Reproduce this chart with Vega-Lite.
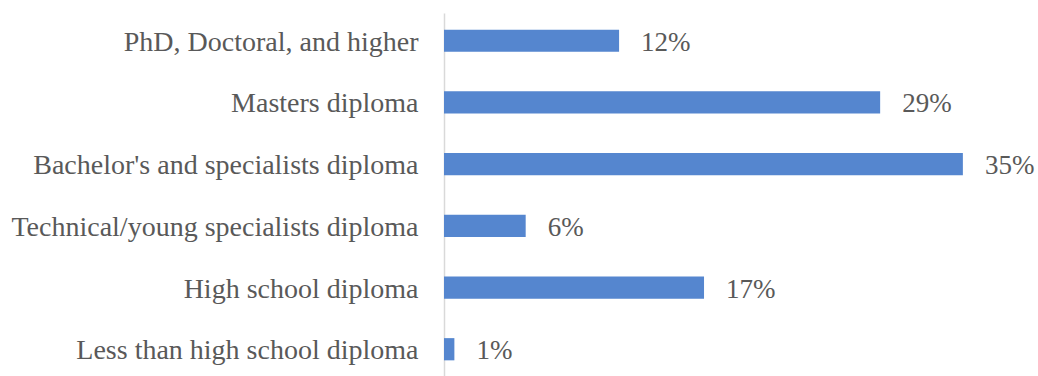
{
  "$schema": "https://vega.github.io/schema/vega-lite/v6.json",
  "autosize": "none",
  "width": 593,
  "height": 364,
  "padding": {"left": 444, "top": 13, "right": 0, "bottom": 0},
  "background": "white",
  "config": {"view": {"stroke": null}, "font": "Liberation Serif"},
  "data": {
    "values": [
      {"level": "PhD, Doctoral, and higher", "share": 11.81, "label": "12%"},
      {"level": "Masters diploma", "share": 29.42, "label": "29%"},
      {"level": "Bachelor's and specialists diploma", "share": 35.0, "label": "35%"},
      {"level": "Technical/young specialists diploma", "share": 5.51, "label": "6%"},
      {"level": "High school diploma", "share": 17.54, "label": "17%"},
      {"level": "Less than high school diploma", "share": 0.7, "label": "1%"}
    ]
  },
  "encoding": {
    "y": {
      "field": "level",
      "type": "nominal",
      "sort": null,
      "scale": {"paddingInner": 0.64, "paddingOuter": 0.27},
      "axis": {
        "title": null,
        "ticks": false,
        "domain": true,
        "domainColor": "#D9D9D9",
        "domainWidth": 1.5,
        "labelFont": "Liberation Serif",
        "labelFontSize": 28,
        "labelColor": "#595959",
        "labelPadding": 26,
        "labelOffset": 2,
        "labelLimit": 500
      }
    },
    "x": {
      "field": "share",
      "type": "quantitative",
      "scale": {"domain": [0, 40], "nice": false},
      "axis": null
    }
  },
  "layer": [
    {"mark": {"type": "bar", "color": "#5586CF"}},
    {
      "mark": {
        "type": "text",
        "align": "left",
        "baseline": "middle",
        "dx": 22,
        "dy": 2,
        "font": "Liberation Serif",
        "fontSize": 27,
        "color": "#595959"
      },
      "encoding": {"text": {"field": "label"}}
    }
  ]
}
